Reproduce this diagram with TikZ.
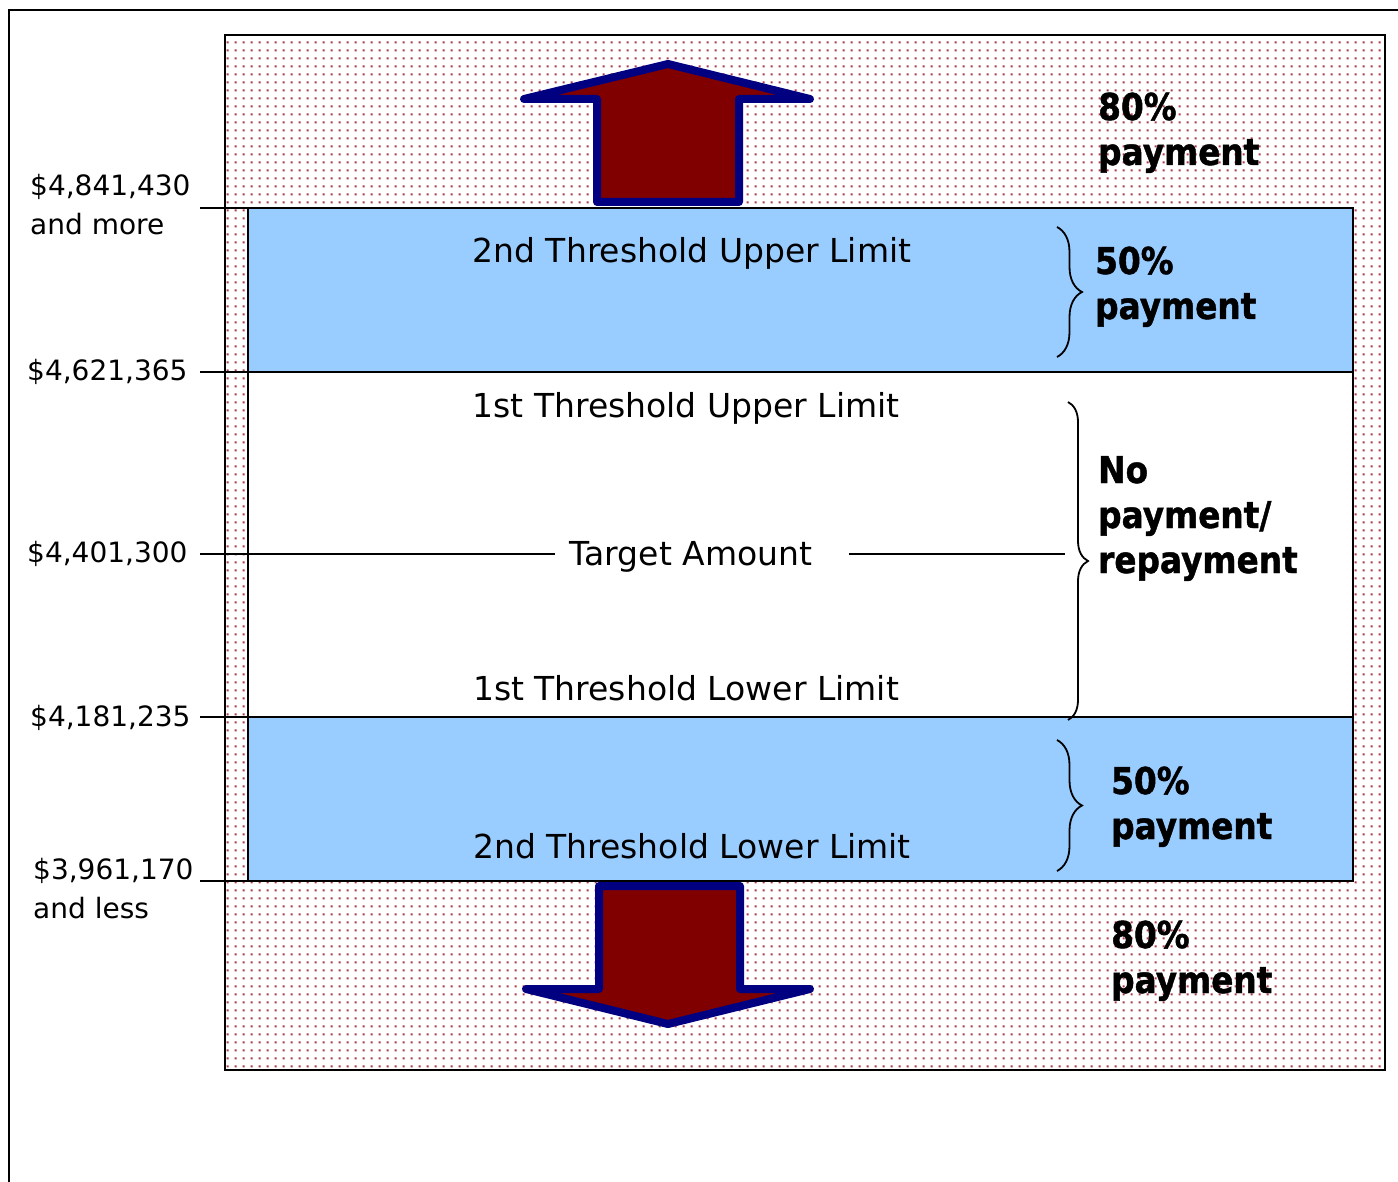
\documentclass[tikz,border=0pt]{standalone}
\usepackage{fontspec}
\setmainfont{DejaVu Sans}
\newfontfamily\payfont[FakeBold=1.2,FakeStretch=0.885]{DejaVu Sans Bold}
\usetikzlibrary{patterns.meta,decorations.pathreplacing}
\definecolor{bandblue}{HTML}{99CCFF}
\definecolor{arrowred}{HTML}{800000}
\definecolor{arrownavy}{HTML}{000080}
\definecolor{dotred}{RGB}{175,55,70}
\tikzdeclarepattern{
  name=reddots,
  type=uncolored,
  bounding box={(0pt,0pt) and (8pt,8pt)},
  tile size={(8pt,8pt)},
  code={\fill (3pt,3pt) rectangle (5.2pt,5.2pt);}
}
\begin{document}
\begin{tikzpicture}[x=1pt,y=-1pt,
  val/.style={font=\fontsize{28}{39}\selectfont, anchor=base west, inner sep=0pt, align=left},
  mid/.style={font=\fontsize{33}{40}\selectfont, anchor=base, inner sep=0pt},
  pay/.style={font=\payfont\fontsize{37}{45}\selectfont, anchor=base west, inner sep=0pt, align=left},
  tick/.style={line width=1.5pt},
  bigarrow/.style={fill=arrowred, draw=arrownavy, line width=8pt, line join=round, line cap=round},
  bracel/.style={decorate, decoration={brace, amplitude=25pt}, line width=1.8pt}
]
\useasboundingbox (0,0) rectangle (1398,1182);
% outer frame
\draw[line width=2pt] (9,1182) -- (9,10) -- (1398,10);
% dotted region
\fill[pattern=reddots, pattern color=dotred] (225,35) rectangle (1385,1070);
\draw[line width=2pt] (225,35) rectangle (1385,1070);
% bands
\draw[line width=2pt, fill=white] (248,372) rectangle (1353,717);
\draw[line width=2pt, fill=bandblue] (248,208) rectangle (1353,372);
\draw[line width=2pt, fill=bandblue] (248,717) rectangle (1353,881);
% arrows
\draw[bigarrow] (597,202) -- (597,99) -- (524,99) -- (668,64) -- (810,99) -- (739,99) -- (739,202) -- cycle;
\draw[bigarrow] (599,886) -- (599,989) -- (526,989) -- (668,1024) -- (810,989) -- (740,989) -- (740,886) -- cycle;
% centre labels
\node[mid] (up2) at (692,263) {2nd Threshold Upper Limit};
\node[mid] (up1) at (686,417) {1st Threshold Upper Limit};
\node[mid] (tgt) at (691,565) {Target Amount};
\node[mid] (lo1) at (686,700) {1st Threshold Lower Limit};
\node[mid] (lo2) at (692,858) {2nd Threshold Lower Limit};
% ticks
\coordinate (t1) at (200,208);
\coordinate (t2) at (200,372);
\coordinate (t3) at (200,554);
\coordinate (t4) at (200,717);
\coordinate (t5) at (200,881);
\coordinate (b1) at (248,208);
\coordinate (b2) at (248,372);
\coordinate (b4) at (248,717);
\coordinate (b5) at (248,881);
\coordinate (tl) at (555,554);
\coordinate (tr1) at (849,554);
\coordinate (tr2) at (1065,554);
\draw[tick] (t1) -- (b1);
\draw[tick] (t2) -- (b2);
\draw[tick] (t3) -- (tl);
\draw[tick] (tr1) -- (tr2);
\draw[tick] (t4) -- (b4);
\draw[tick] (t5) -- (b5);
% value labels (base anchor = last line's baseline)
\node[val] (v1) at (30,235) {\$4,841,430\\and more};
\node[val] (v2) at (27,381) {\$4,621,365};
\node[val] (v3) at (27,562) {\$4,401,300};
\node[val] (v4) at (30,726) {\$4,181,235};
\node[val] (v5) at (33,918) {\$3,961,170\\and less};
% braces
\draw[bracel] (1057,227) -- (1057,357);
\draw[bracel, decoration={brace, amplitude=20pt}] (1068,402) -- (1068,720);
\draw[bracel] (1057,740) -- (1057,871);
% payment labels
\node[pay] (p1) at (1098,165) {80\%\\payment};
\node[pay] (p2) at (1095,319) {50\%\\payment};
\node[pay] (p3) at (1098,573) {No\\payment/\\repayment};
\node[pay] (p4) at (1111,839) {50\%\\payment};
\node[pay] (p5) at (1111,993) {80\%\\payment};
\end{tikzpicture}
\end{document}
